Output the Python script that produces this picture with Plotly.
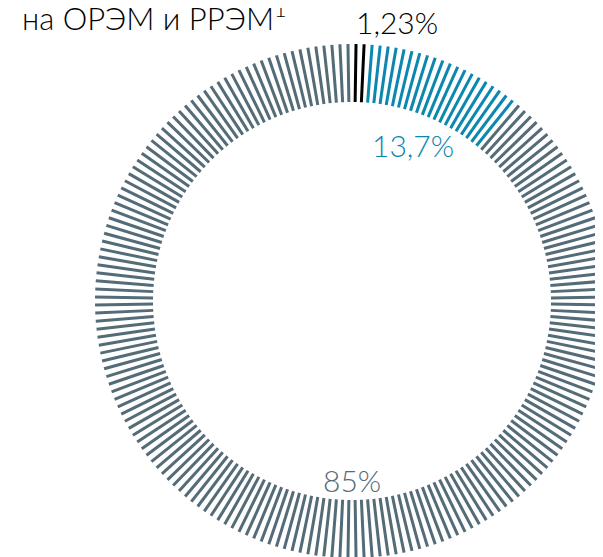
import plotly.graph_objects as go

# доли (подписи) и число штрихов в каждом секторе, как на картинке
labels = ["1,23%", "13,7%", "85%"]
shares = [1.23, 13.7, 85.0]
tick_counts = [2, 20, 178]
colors = ["#000000", "#0b87b0", "#546b78"]

title_text = "на ОРЭМ и РРЭМ<sup>1</sup>"

W, H = 603, 557
OFF = 8                    # отступ body в html
cx, cy = 352 - OFF, 301 - OFF   # центр кольца, px
R_plot = 250               # радиус полярной области, px
r_in, r_out = 199, 257     # кольцо, px

n_total = sum(tick_counts)
step = 360.0 / n_total

fig = go.Figure()
start = 0
for lab, sh, n, col in zip(labels, shares, tick_counts, colors):
    theta = [(start + i + 0.5) * step for i in range(n)]
    start += n
    fig.add_trace(go.Scatterpolar(
        r=[(r_in + r_out) / 2] * n,
        theta=theta,
        mode="markers",
        name=lab,
        cliponaxis=False,
        hovertext=[f"{sh}%"] * n,
        marker=dict(symbol="line-ns", size=(r_out - r_in) / 1.4, angle=theta,
                    color=col, line=dict(color=col, width=3)),
    ))

fig.update_layout(
    width=W, height=H,
    margin=dict(l=0, r=0, t=0, b=0),
    paper_bgcolor="white",
    showlegend=False,
    polar=dict(
        domain=dict(x=[(cx - R_plot) / W, (cx + R_plot) / W],
                    y=[(H - cy - R_plot) / H, (H - cy + R_plot) / H]),
        bgcolor="rgba(0,0,0,0)",
        radialaxis=dict(visible=False, range=[0, R_plot]),
        angularaxis=dict(visible=False, rotation=90, direction="clockwise"),
    ),
    font=dict(family="Lato", weight=300),
)


def px(x, y):
    return x / W, 1 - y / H


fnt = dict(family="Lato", size=30, weight=300)
for txt, (x, y), col, anchor, size in [
    (title_text, (12, 9), "#000000", "left", 31),
    (labels[0], (389, 14), colors[0], "center", 30),
    (labels[1], (405, 137), colors[1], "center", 30),
    (labels[2], (344, 472), colors[2], "center", 30),
]:
    ax, ay = px(x, y)
    fig.add_annotation(x=ax, y=ay, xref="paper", yref="paper", text=txt,
                       showarrow=False, xanchor=anchor, yanchor="middle",
                       font=dict(fnt, color=col, size=size))

fig.write_html("out.html")
